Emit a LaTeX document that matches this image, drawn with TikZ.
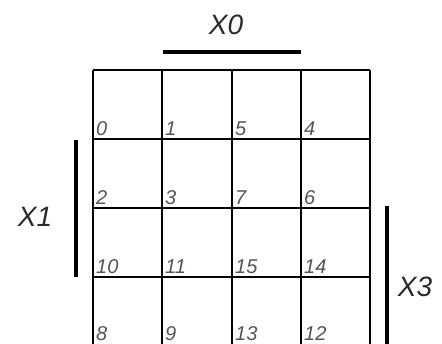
\documentclass[tikz,border=0pt]{standalone}
\usepackage{fontspec}
\setmainfont{Liberation Sans}
\usepackage{xcolor}
\definecolor{numgray}{HTML}{555555}
\definecolor{labgray}{HTML}{2A2A2A}
\tikzset{
  cellnum/.style={anchor=south west,inner sep=0pt,text=numgray,
    font=\fontsize{20}{20}\selectfont\itshape},
  varlabel/.style={inner sep=0pt,text=labgray,
    font=\fontsize{28}{28}\selectfont\itshape},
  varbar/.style={line width=4pt},
  gridline/.style={line width=1.5pt}
}

\begin{document}
\begin{tikzpicture}[x=1pt,y=-1pt]
\useasboundingbox (0,0) rectangle (442,344);
\clip (0,0) rectangle (442,344);

% 格子
\draw[gridline] (93,70) -- (370,70);
\draw[gridline] (93,139) -- (370,139);
\draw[gridline] (93,208) -- (370,208);
\draw[gridline] (93,277) -- (370,277);
\draw[gridline] (93,70) -- (93,350);
\draw[gridline] (162,70) -- (162,350);
\draw[gridline] (232,70) -- (232,350);
\draw[gridline] (301,70) -- (301,350);
\draw[gridline] (370,70) -- (370,350);

% 第1行
\node[cellnum] (m0) at (96,136) {0};
\node[cellnum] (m1) at (165,136) {1};
\node[cellnum] (m5) at (235,136) {5};
\node[cellnum] (m4) at (304,136) {4};

% 第2行
\node[cellnum] (m2) at (96,205) {2};
\node[cellnum] (m3) at (165,205) {3};
\node[cellnum] (m7) at (235,205) {7};
\node[cellnum] (m6) at (304,205) {6};

% 第3行
\node[cellnum] (m10) at (96,274) {10};
\node[cellnum] (m11) at (165,274) {11};
\node[cellnum] (m15) at (235,274) {15};
\node[cellnum] (m14) at (304,274) {14};

% 第4行
\node[cellnum] (m8) at (96,341) {8};
\node[cellnum] (m9) at (165,341) {9};
\node[cellnum] (m13) at (235,341) {13};
\node[cellnum] (m12) at (304,341) {12};

% 变量
\node[varlabel] (x0) at (226,25) {X0};
\node[varlabel] (x1) at (35,217) {X1};
\node[varlabel] (x3) at (415,287) {X3};

\coordinate (x0a) at (163,52);
\coordinate (x0b) at (301,52);
\coordinate (x1a) at (76,140);
\coordinate (x1b) at (76,277);
\coordinate (x3a) at (387,206);
\coordinate (x3b) at (387,350);

\draw[varbar] (x0a) -- (x0b);
\draw[varbar] (x1a) -- (x1b);
\draw[varbar] (x3a) -- (x3b);
\end{tikzpicture}
\end{document}
